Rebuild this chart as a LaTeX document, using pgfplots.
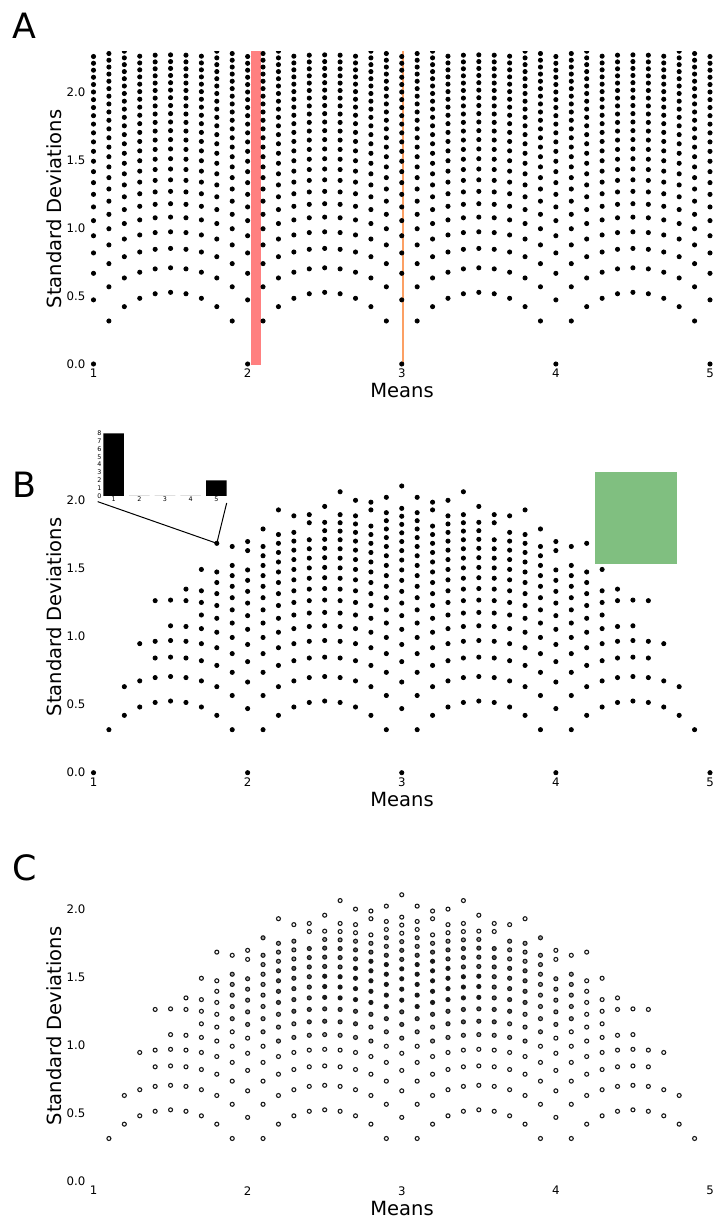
\documentclass[border=0pt]{standalone}
\usepackage{fontspec}
\setmainfont{DejaVu Sans}
\usepackage{pgfplots}
\usepackage{pgfplotstable}
\pgfplotsset{compat=1.18}
\definecolor{hlred}{RGB}{255,128,128}
\definecolor{hlorange}{RGB}{252,160,100}
\definecolor{hlgreen}{RGB}{128,191,128}

% panel A: std devs of 10 integers, by remainder class of the sum
\pgfplotstableread[row sep=\\]{y\\0\\0.4714\\0.6667\\0.8165\\0.9428\\1.0541\\1.1547\\1.2472\\1.3333\\1.4142\\1.4907\\1.5635\\1.6330\\1.6997\\1.7638\\1.8257\\1.8856\\1.9437\\2.0000\\2.0548\\2.1082\\2.1602\\2.2111\\2.2608\\2.3094\\}\cA
\pgfplotstableread[row sep=\\]{y\\0.3162\\0.5676\\0.7379\\0.8756\\0.9944\\1.1005\\1.1972\\1.2867\\1.3703\\1.4491\\1.5239\\1.5951\\1.6633\\1.7288\\1.7920\\1.8529\\1.9120\\1.9692\\2.0248\\2.0790\\2.1318\\2.1833\\2.2336\\2.2828\\2.3310\\}\cB
\pgfplotstableread[row sep=\\]{y\\0.4216\\0.6325\\0.7888\\0.9189\\1.0328\\1.1353\\1.2293\\1.3166\\1.3984\\1.4757\\1.5492\\1.6193\\1.6865\\1.7512\\1.8135\\1.8738\\1.9322\\1.9889\\2.0440\\2.0976\\2.1499\\2.2010\\2.2509\\2.2998\\2.3476\\}\cC
\pgfplotstableread[row sep=\\]{y\\0.4830\\0.6749\\0.8233\\0.9487\\1.0593\\1.1595\\1.2517\\1.3375\\1.4181\\1.4944\\1.5670\\1.6364\\1.7029\\1.7670\\1.8288\\1.8886\\1.9465\\2.0028\\2.0575\\2.1108\\2.1628\\2.2136\\2.2632\\2.3118\\}\cD
\pgfplotstableread[row sep=\\]{y\\0.5164\\0.6992\\0.8433\\0.9661\\1.0750\\1.1738\\1.2649\\1.3499\\1.4298\\1.5055\\1.5776\\1.6465\\1.7127\\1.7764\\1.8379\\1.8974\\1.9550\\2.0111\\2.0656\\2.1187\\2.1705\\2.2211\\2.2706\\2.3190\\}\cE
\pgfplotstableread[row sep=\\]{y\\0.5270\\0.7071\\0.8498\\0.9718\\1.0801\\1.1785\\1.2693\\1.3540\\1.4337\\1.5092\\1.5811\\1.6499\\1.7159\\1.7795\\1.8409\\1.9003\\1.9579\\2.0138\\2.0683\\2.1213\\2.1731\\2.2236\\2.2730\\2.3214\\}\cF

% panels B and C: values 1..5, one table per distance of the mean from 3
% y = std dev, m = shade used in panel C (9 = not drawn in C)
\pgfplotstableread[row sep=\\]{y m\\0 9\\0.4714 0\\0.6667 0\\0.8165 0\\0.9428 0\\1.0541 1\\1.1547 2\\1.2472 2\\1.3333 3\\1.4142 3\\1.4907 3\\1.5635 3\\1.6330 2\\1.6997 2\\1.7638 1\\1.8257 0\\1.8856 0\\1.9437 0\\2.1082 0\\}\tZero
\pgfplotstableread[row sep=\\]{y m\\0.3162 0\\0.5676 0\\0.7379 0\\0.8756 0\\0.9944 0\\1.1005 1\\1.1972 2\\1.2867 3\\1.3703 3\\1.4491 3\\1.5239 3\\1.5951 3\\1.6633 2\\1.7288 1\\1.7920 1\\1.8529 0\\1.9120 0\\2.0248 0\\}\tOne
\pgfplotstableread[row sep=\\]{y m\\0.4216 0\\0.6325 0\\0.7888 0\\0.9189 0\\1.0328 1\\1.1353 1\\1.2293 2\\1.3166 3\\1.3984 3\\1.4757 3\\1.5492 3\\1.6193 3\\1.6865 2\\1.7512 1\\1.8135 0\\1.9322 0\\1.9889 0\\}\tTwo
\pgfplotstableread[row sep=\\]{y m\\0.4830 0\\0.6749 0\\0.8233 0\\0.9487 0\\1.0593 1\\1.1595 2\\1.2517 2\\1.3375 3\\1.4181 3\\1.4944 3\\1.5670 3\\1.6364 2\\1.7029 2\\1.7670 1\\1.8288 0\\1.8886 0\\2.0028 0\\}\tThree
\pgfplotstableread[row sep=\\]{y m\\0.5164 0\\0.6992 0\\0.8433 0\\0.9661 0\\1.0750 1\\1.1738 2\\1.2649 2\\1.3499 3\\1.4298 3\\1.5055 3\\1.5776 2\\1.6465 2\\1.7127 2\\1.7764 1\\1.8379 0\\1.8974 0\\2.0656 0\\}\tFour
\pgfplotstableread[row sep=\\]{y m\\0.5270 0\\0.7071 0\\0.8498 0\\0.9718 0\\1.0801 1\\1.1785 2\\1.2693 2\\1.3540 3\\1.4337 3\\1.5092 3\\1.5811 2\\1.6499 2\\1.7159 2\\1.7795 1\\1.8409 0\\1.9579 0\\}\tFive
\pgfplotstableread[row sep=\\]{y m\\0.5164 0\\0.6992 0\\0.8433 0\\0.9661 0\\1.0750 1\\1.1738 2\\1.2649 2\\1.3499 2\\1.4298 2\\1.5055 2\\1.5776 2\\1.6465 2\\1.7127 2\\1.8379 0\\1.8974 0\\}\tSix
\pgfplotstableread[row sep=\\]{y m\\0.4830 0\\0.6749 0\\0.8233 0\\0.9487 0\\1.0593 1\\1.1595 1\\1.2517 2\\1.3375 2\\1.4181 2\\1.4944 2\\1.5670 2\\1.6364 1\\1.7029 1\\1.7670 1\\1.8886 0\\}\tSeven
\pgfplotstableread[row sep=\\]{y m\\0.4216 0\\0.6325 0\\0.7888 0\\0.9189 0\\1.0328 1\\1.1353 1\\1.2293 1\\1.3166 2\\1.3984 2\\1.4757 2\\1.5492 2\\1.6193 1\\1.6865 1\\1.7512 1\\1.9322 0\\}\tEight
\pgfplotstableread[row sep=\\]{y m\\0.3162 0\\0.5676 0\\0.7379 0\\0.8756 0\\0.9944 0\\1.1005 1\\1.1972 1\\1.2867 1\\1.3703 1\\1.4491 1\\1.5239 1\\1.5951 1\\1.6633 1\\1.7920 1\\}\tNine
\pgfplotstableread[row sep=\\]{y m\\0 9\\0.4714 0\\0.6667 0\\0.8165 0\\0.9428 0\\1.0541 0\\1.1547 1\\1.2472 1\\1.3333 1\\1.4142 1\\1.4907 1\\1.6330 0\\1.6997 0\\}\tTen
\pgfplotstableread[row sep=\\]{y m\\0.3162 0\\0.5676 0\\0.7379 0\\0.8756 0\\0.9944 0\\1.1005 0\\1.1972 1\\1.2867 1\\1.3703 1\\1.4491 1\\1.5239 1\\1.6633 0\\}\tEleven
\pgfplotstableread[row sep=\\]{y m\\0.4216 0\\0.6325 0\\0.7888 0\\0.9189 0\\1.0328 0\\1.1353 0\\1.2293 0\\1.3166 0\\1.3984 0\\1.4757 0\\1.6865 0\\}\tTwelve
\pgfplotstableread[row sep=\\]{y m\\0.4830 0\\0.6749 0\\0.8233 0\\0.9487 0\\1.0593 0\\1.1595 0\\1.2517 0\\1.3375 0\\1.4944 0\\}\tThirteen
\pgfplotstableread[row sep=\\]{y m\\0.5164 0\\0.6992 0\\0.8433 0\\0.9661 0\\1.0750 0\\1.2649 0\\1.3499 0\\}\tFourteen
\pgfplotstableread[row sep=\\]{y m\\0.5270 0\\0.7071 0\\0.8498 0\\0.9718 0\\1.0801 0\\1.2693 0\\}\tFifteen
\pgfplotstableread[row sep=\\]{y m\\0.5164 0\\0.6992 0\\0.8433 0\\0.9661 0\\1.2649 0\\}\tSixteen
\pgfplotstableread[row sep=\\]{y m\\0.4830 0\\0.6749 0\\0.9487 0\\}\tSeventeen
\pgfplotstableread[row sep=\\]{y m\\0.4216 0\\0.6325 0\\}\tEighteen
\pgfplotstableread[row sep=\\]{y m\\0.3162 0\\}\tNineteen
\pgfplotstableread[row sep=\\]{y m\\0 9\\}\tTwenty

\pgfplotsset{
  panel/.style={
    scale only axis, width=315.95bp, height=159.8bp,
    xmin=0.95, xmax=5.05, ymin=-0.05, ymax=2.3,
    axis line style={draw=none}, major tick length=0pt,
    xtick={1,2,3,4,5}, ytick={0,0.5,1,1.5,2},
    /pgf/number format/assume math mode=true,
    tick label style={font=\fontsize{5.9}{6.5}\selectfont},
    yticklabel style={inner sep=0pt, /pgf/number format/fixed,
      /pgf/number format/fixed zerofill, /pgf/number format/precision=1},
    xticklabel style={inner sep=0pt, yshift=1.15bp},
    clip marker paths=true,
  },
  dot/.style={only marks, mark=*, mark size=1.05bp,
    mark options={draw=none, fill=black}},
  ring/.style={only marks, mark=*, mark size=1.0bp,
    mark options={solid, line width=0.55bp, draw=black!90, fill=#1}},
}
\newcommand\plotB[3]{%
  \addplot[dot] table[x expr=#1, y=y]{#3};
  \addplot[dot] table[x expr=#2, y=y]{#3};}
% one column of panel C, shade classes 0..3
\newcommand\colC[2]{%
  \addplot[ring=white, restrict expr to domain={\thisrow{m}}{-0.5:0.5}] table[x expr=#1, y=y]{#2};
  \addplot[ring=black!40, restrict expr to domain={\thisrow{m}}{0.5:1.5}] table[x expr=#1, y=y]{#2};
  \addplot[ring=black!65, restrict expr to domain={\thisrow{m}}{1.5:2.5}] table[x expr=#1, y=y]{#2};
  \addplot[ring=black!90, restrict expr to domain={\thisrow{m}}{2.5:3.5}] table[x expr=#1, y=y]{#2};}
\newcommand\plotC[3]{\colC{#1}{#3}\colC{#2}{#3}}
\newcommand\labfont{\fontsize{9.8}{11}\selectfont}
\newcommand\letterfont{\fontsize{17.5}{20}\selectfont}

\begin{document}
\begin{tikzpicture}
\useasboundingbox (0,0) rectangle (356.5bp,609bp);

% ---------- A ----------
\begin{axis}[panel, at={(42.9bp,423.6bp)}, anchor=south west]
\addplot[fill=hlred, draw=none] coordinates {(2.02,-0.01) (2.085,-0.01) (2.085,2.4) (2.02,2.4)} --cycle;
\addplot[draw=hlorange, line width=1bp] coordinates {(3.005,0) (3.005,2.4)};
\pgfplotsinvokeforeach{1,2,3,4,5}{\addplot[dot] table[x expr=#1, y=y]{\cA};}
\pgfplotsinvokeforeach{1.1,1.9,2.1,2.9,3.1,3.9,4.1,4.9}{\addplot[dot] table[x expr=#1, y=y]{\cB};}
\pgfplotsinvokeforeach{1.2,1.8,2.2,2.8,3.2,3.8,4.2,4.8}{\addplot[dot] table[x expr=#1, y=y]{\cC};}
\pgfplotsinvokeforeach{1.3,1.7,2.3,2.7,3.3,3.7,4.3,4.7}{\addplot[dot] table[x expr=#1, y=y]{\cD};}
\pgfplotsinvokeforeach{1.4,1.6,2.4,2.6,3.4,3.6,4.4,4.6}{\addplot[dot] table[x expr=#1, y=y]{\cE};}
\pgfplotsinvokeforeach{1.5,2.5,3.5,4.5}{\addplot[dot] table[x expr=#1, y=y]{\cF};}
\end{axis}

% ---------- B ----------
\begin{axis}[panel, at={(42.9bp,219.25bp)}, anchor=south west]
\addplot[fill=hlgreen, draw=none] coordinates {(4.254,1.538) (4.789,1.538) (4.789,2.21) (4.254,2.21)} --cycle;
\addplot[dot] table[x expr=3, y=y]{\tZero};
\plotB{2.9}{3.1}{\tOne}
\plotB{2.8}{3.2}{\tTwo}
\plotB{2.7}{3.3}{\tThree}
\plotB{2.6}{3.4}{\tFour}
\plotB{2.5}{3.5}{\tFive}
\plotB{2.4}{3.6}{\tSix}
\plotB{2.3}{3.7}{\tSeven}
\plotB{2.2}{3.8}{\tEight}
\plotB{2.1}{3.9}{\tNine}
\plotB{2.0}{4.0}{\tTen}
\plotB{1.9}{4.1}{\tEleven}
\plotB{1.8}{4.2}{\tTwelve}
\plotB{1.7}{4.3}{\tThirteen}
\plotB{1.6}{4.4}{\tFourteen}
\plotB{1.5}{4.5}{\tFifteen}
\plotB{1.4}{4.6}{\tSixteen}
\plotB{1.3}{4.7}{\tSeventeen}
\plotB{1.2}{4.8}{\tEighteen}
\plotB{1.1}{4.9}{\tNineteen}
\plotB{1.0}{5.0}{\tTwenty}
\draw[line width=0.5bp] (axis cs:1.027,1.993) -- (axis cs:1.8,1.6865) -- (axis cs:1.864,1.983);
\end{axis}

% inset histogram of the sample (eight 1s, two 5s)
\begin{axis}[at={(51.65bp,361bp)}, anchor=south west, scale only axis,
  width=61.7bp, height=31.35bp, xmin=0.6, xmax=5.4, ymin=0, ymax=8,
  ybar, bar width=0.8, axis line style={draw=none}, major tick length=0pt,
  xtick={1,2,3,4,5}, ytick={0,1,2,3,4,5,6,7,8},
  /pgf/number format/assume math mode=true,
  tick label style={font=\fontsize{3.2}{3.5}\selectfont},
  xticklabel style={inner sep=0.4bp}, yticklabel style={inner sep=0.7bp}]
\addplot[fill=black, draw=none] coordinates {(1,8) (2,0) (3,0) (4,0) (5,2)};
\end{axis}

% ---------- C ----------
\begin{axis}[panel, at={(42.9bp,14.85bp)}, anchor=south west, clip marker paths=false]
\colC{3}{\tZero}
\plotC{2.9}{3.1}{\tOne}
\plotC{2.8}{3.2}{\tTwo}
\plotC{2.7}{3.3}{\tThree}
\plotC{2.6}{3.4}{\tFour}
\plotC{2.5}{3.5}{\tFive}
\plotC{2.4}{3.6}{\tSix}
\plotC{2.3}{3.7}{\tSeven}
\plotC{2.2}{3.8}{\tEight}
\plotC{2.1}{3.9}{\tNine}
\plotC{2.0}{4.0}{\tTen}
\plotC{1.9}{4.1}{\tEleven}
\plotC{1.8}{4.2}{\tTwelve}
\plotC{1.7}{4.3}{\tThirteen}
\plotC{1.6}{4.4}{\tFourteen}
\plotC{1.5}{4.5}{\tFifteen}
\plotC{1.4}{4.6}{\tSixteen}
\plotC{1.3}{4.7}{\tSeventeen}
\plotC{1.2}{4.8}{\tEighteen}
\plotC{1.1}{4.9}{\tNineteen}
\end{axis}

% labels
\node[rotate=90, inner sep=0pt, font=\labfont] at (27bp,504.5bp) {Standard Deviations};
\node[rotate=90, inner sep=0pt, font=\labfont] at (27bp,300.5bp) {Standard Deviations};
\node[rotate=90, inner sep=0pt, font=\labfont] at (27bp,96bp) {Standard Deviations};
\node[anchor=base, inner sep=0pt, font=\labfont] at (201bp,410bp) {Means};
\node[anchor=base, inner sep=0pt, font=\labfont] at (201bp,205.65bp) {Means};
\node[anchor=base, inner sep=0pt, font=\labfont] at (201bp,1.25bp) {Means};
\node[anchor=base west, inner sep=0pt, font=\letterfont] at (6bp,589.5bp) {A};
\node[anchor=base west, inner sep=0pt, font=\letterfont] at (6bp,360bp) {B};
\node[anchor=base west, inner sep=0pt, font=\letterfont] at (6bp,168.5bp) {C};
\end{tikzpicture}
\end{document}
